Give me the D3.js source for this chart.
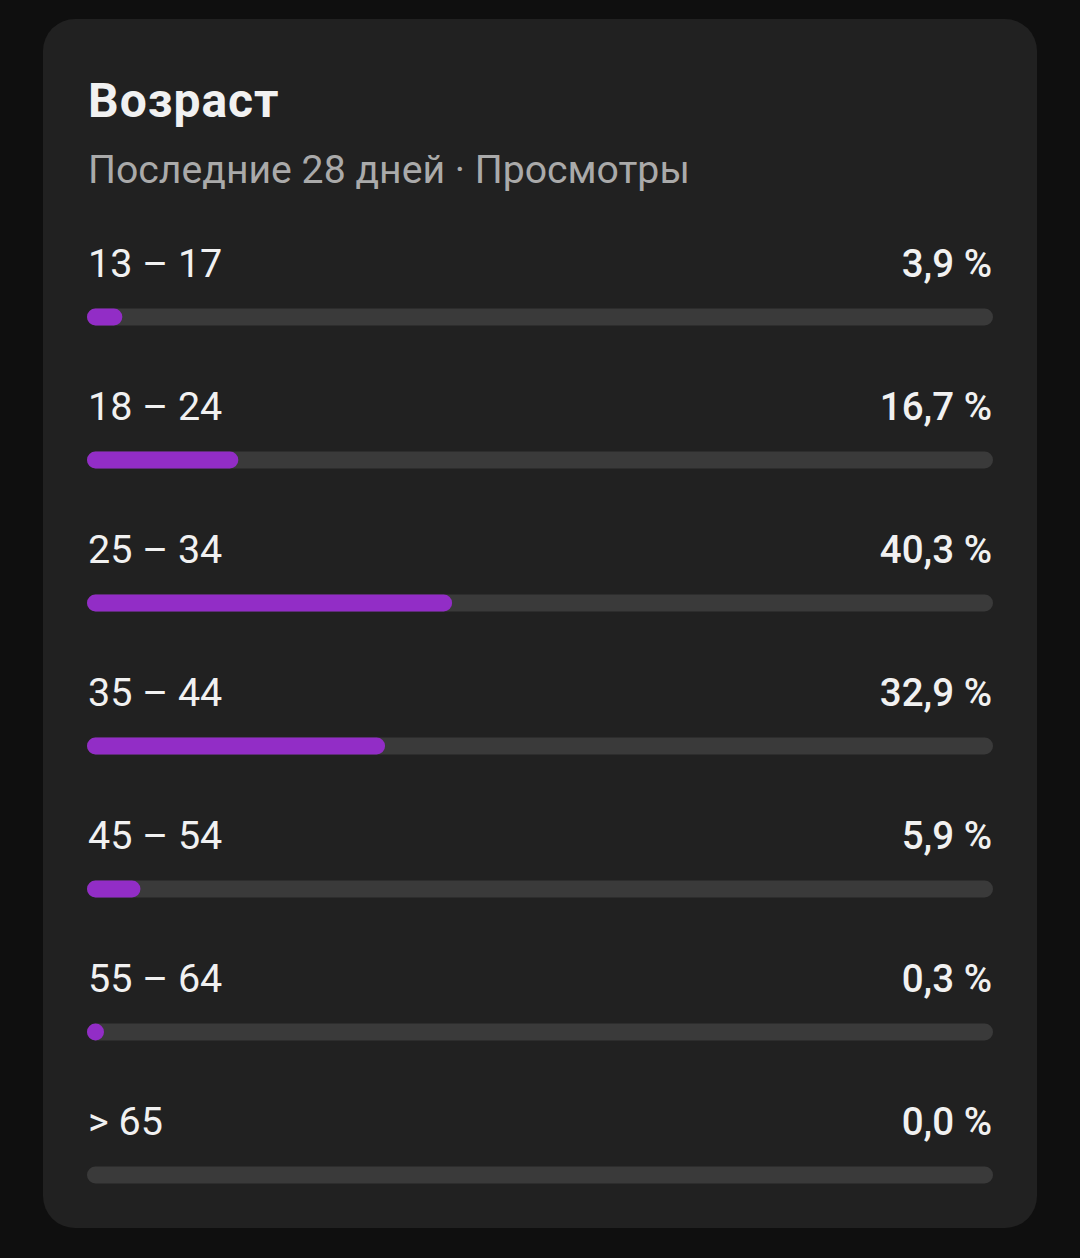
<!DOCTYPE html>
<html>
<head>
<meta charset="utf-8">
<script src="https://cdn.jsdelivr.net/npm/d3@7"></script>
<style>
  html, body { margin: 0; padding: 0; background: #0f0f0f; }
  svg { display: block; font-family: Roboto, "Noto Sans", sans-serif; }
</style>
</head>
<body>
<div id="chart"></div>
<script>
var categories = ['13 – 17', '18 – 24', '25 – 34', '35 – 44', '45 – 54', '55 – 64', '> 65'];
var values = [3.9, 16.7, 40.3, 32.9, 5.9, 0.3, 0.0];
var valueLabels = ['3,9 %', '16,7 %', '40,3 %', '32,9 %', '5,9 %', '0,3 %', '0,0 %'];

var width = 1080;
var height = 1258;
var barH = 17;

var svg = d3.select('#chart').append('svg')
    .attr('width', width)
    .attr('height', height);

svg.append('rect')
    .attr('width', width)
    .attr('height', height)
    .attr('fill', '#0f0f0f');

svg.append('rect')
    .attr('x', 43)
    .attr('y', 19)
    .attr('width', 994)
    .attr('height', 1209)
    .attr('rx', 32)
    .attr('fill', '#212121');

svg.append('text')
    .attr('x', 88)
    .attr('y', 117)
    .attr('fill', '#f1f1f1')
    .attr('font-size', 48)
    .attr('font-weight', 700)
    .attr('letter-spacing', 1)
    .text('Возраст');

svg.append('text')
    .attr('x', 88)
    .attr('y', 183)
    .attr('fill', '#aaaaaa')
    .attr('font-size', 39.2)
    .text('Последние 28 дней · Просмотры');

var x = d3.scaleLinear().domain([0, 100]).range([87, 993]);
var y = d3.scaleBand().domain(categories).range([220, 220 + categories.length * 143]);

var rows = svg.selectAll('g.row')
    .data(categories)
    .enter().append('g')
    .attr('class', 'row')
    .attr('transform', function (d) { return 'translate(0,' + y(d) + ')'; });

rows.append('text')
    .attr('x', 88)
    .attr('y', 57)
    .attr('fill', '#f1f1f1')
    .attr('font-size', 39.5)
    .text(function (d) { return d; });

rows.append('text')
    .attr('x', 992)
    .attr('y', 57)
    .attr('text-anchor', 'end')
    .attr('fill', '#f1f1f1')
    .attr('font-size', 38.5)
    .attr('font-weight', 500)
    .text(function (d, i) { return valueLabels[i]; });

rows.append('rect')
    .attr('x', x(0))
    .attr('y', 97 - barH / 2)
    .attr('width', x(100) - x(0))
    .attr('height', barH)
    .attr('rx', barH / 2)
    .attr('fill', '#3a3a3a');

rows.filter(function (d, i) { return values[i] > 0; })
    .append('rect')
    .attr('x', x(0))
    .attr('y', 97 - barH / 2)
    .attr('width', function (d) {
      var v = values[categories.indexOf(d)];
      return Math.max(x(v) - x(0), barH);
    })
    .attr('height', barH)
    .attr('rx', barH / 2)
    .attr('fill', '#922dc6');
</script>
</body>
</html>
